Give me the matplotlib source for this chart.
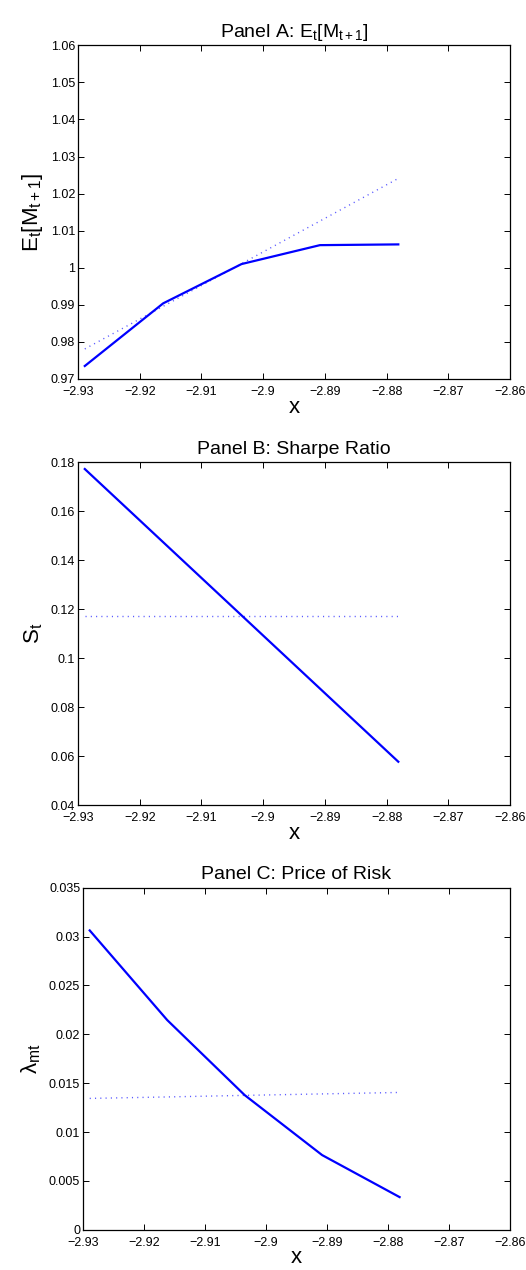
import matplotlib
matplotlib.use('Agg')
import matplotlib.pyplot as plt
from matplotlib.ticker import FuncFormatter

plt.rcParams['font.family'] = ['Liberation Sans', 'DejaVu Sans']
plt.rcParams['mathtext.fontset'] = 'custom'
plt.rcParams['mathtext.rm'] = 'Liberation Sans'
plt.rcParams['mathtext.it'] = 'Liberation Sans'
plt.rcParams['mathtext.bf'] = 'Liberation Sans:bold'

# data
x = [-2.9289, -2.9162, -2.9035, -2.8908, -2.8781]

ev_m = [0.9735, 0.9904, 1.0010, 1.0061, 1.0063]
ev_m_lin = [0.9781, 0.9896, 1.0011, 1.0126, 1.0241]

sharpe = [0.1773, 0.1474, 0.1175, 0.0876, 0.0577]
sharpe_const = [0.1172, 0.1172, 0.1172, 0.1172, 0.1172]

lam = [0.03063, 0.02146, 0.01378, 0.00764, 0.00334]
lam_lin = [0.01344, 0.01359, 0.01375, 0.01390, 0.01405]

xticks = [-2.93, -2.92, -2.91, -2.90, -2.89, -2.88, -2.87, -2.86]

panels = [
    dict(title=r'Panel A: E$_t$[M$_{t+1}$]', ylabel=r'E$_t$[M$_{t+1}$]',
         y=ev_m, y2=ev_m_lin, ylim=(0.97, 1.06),
         yticks=[0.97, 0.98, 0.99, 1.0, 1.01, 1.02, 1.03, 1.04, 1.05, 1.06],
         pos=[0.1483, 0.7016, 0.8213, 0.2627]),
    dict(title='Panel B: Sharpe Ratio', ylabel=r'S$_t$',
         y=sharpe, y2=sharpe_const, ylim=(0.04, 0.18),
         yticks=[0.04, 0.06, 0.08, 0.10, 0.12, 0.14, 0.16, 0.18],
         pos=[0.1483, 0.3661, 0.8213, 0.2698]),
    dict(title='Panel C: Price of Risk', ylabel=r'$\lambda_{mt}$',
         y=lam, y2=lam_lin, ylim=(0, 0.035),
         yticks=[0, 0.005, 0.01, 0.015, 0.02, 0.025, 0.03, 0.035],
         pos=[0.1578, 0.0317, 0.8118, 0.2693]),
]

fmt = FuncFormatter(lambda v, p: ('%g' % round(v, 6)).replace('-', '\u2212'))

fig = plt.figure(figsize=(5.26, 12.7), dpi=100)
for p in panels:
    ax = fig.add_axes(p['pos'])
    ax.plot(x, p['y2'], color='#5a5aff', lw=1.0, dashes=(0.8, 3.0))
    ax.plot(x, p['y'], '-', color='#0000ff', lw=1.6)
    ax.set_xlim(-2.93, -2.86)
    ax.set_ylim(*p['ylim'])
    ax.set_xticks(xticks)
    ax.set_yticks(p['yticks'])
    ax.xaxis.set_major_formatter(fmt)
    ax.yaxis.set_major_formatter(fmt)
    ax.tick_params(direction='in', length=4, width=0.7, labelsize=9,
                   top=True, right=True)
    ax.tick_params(axis='x', pad=5)
    ax.tick_params(axis='y', pad=2)
    for s in ax.spines.values():
        s.set_linewidth(0.9)
    ax.set_title(p['title'], fontsize=14, pad=6)
    ax.set_xlabel('x', fontsize=16, labelpad=-1)
    ax.set_ylabel(p['ylabel'], fontsize=16, labelpad=4)

fig.savefig('out.png', dpi=100)
